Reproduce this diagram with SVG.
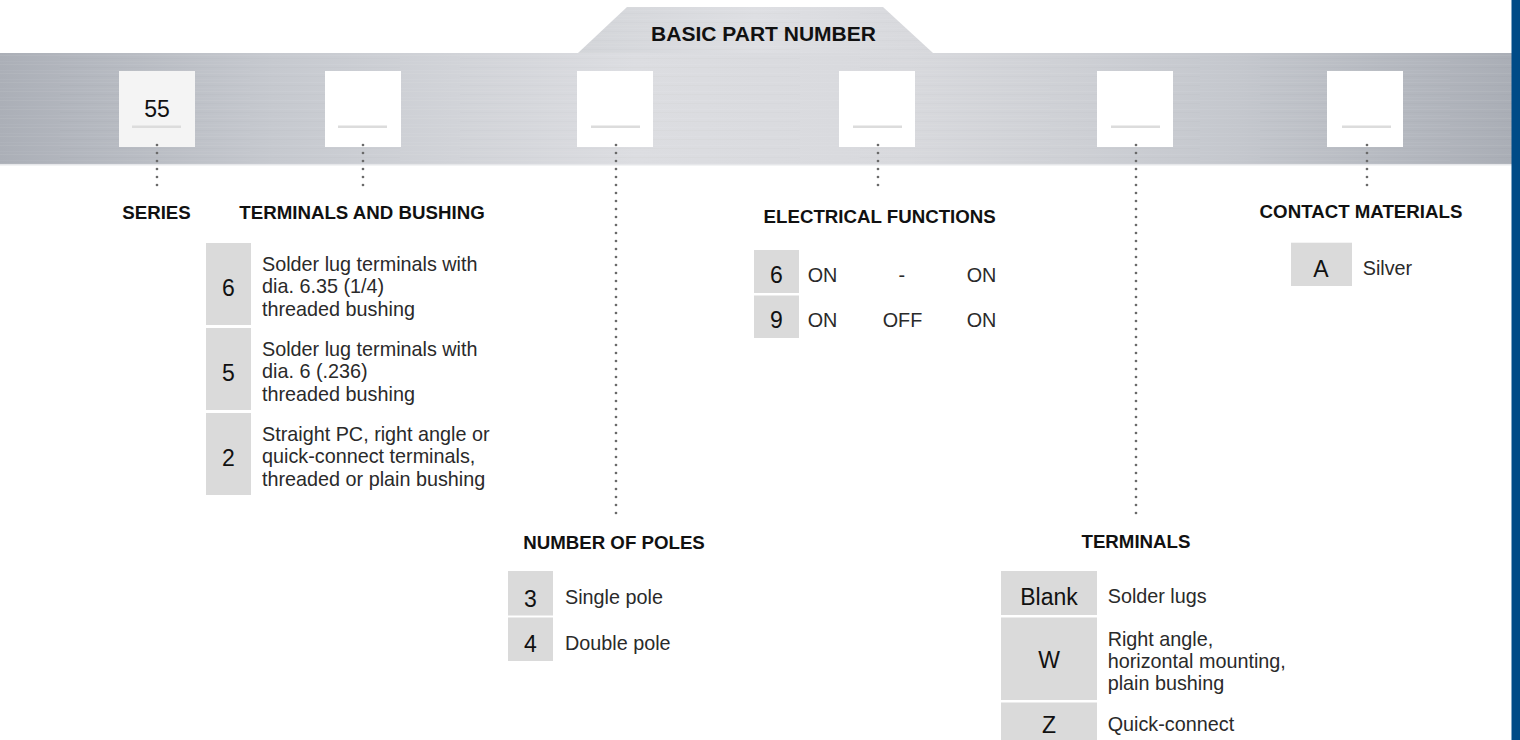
<svg xmlns="http://www.w3.org/2000/svg" width="1520" height="740" viewBox="0 0 1520 740">
<defs>
<linearGradient id="metal" x1="0" y1="0" x2="1" y2="0">
<stop offset="0" stop-color="#abafb7"/>
<stop offset="0.18" stop-color="#c6c9cf"/>
<stop offset="0.42" stop-color="#dcdde1"/>
<stop offset="0.6" stop-color="#d8d9dd"/>
<stop offset="0.82" stop-color="#c4c7cd"/>
<stop offset="1" stop-color="#aaaeb6"/>
</linearGradient>
<linearGradient id="metalTop" x1="0" y1="0" x2="1" y2="0">
<stop offset="0" stop-color="#d3d5d9"/>
<stop offset="0.5" stop-color="#dedfe3"/>
<stop offset="1" stop-color="#d7d8dc"/>
</linearGradient>
<pattern id="brush" patternUnits="userSpaceOnUse" width="400" height="9">
<rect x="0" y="1" width="400" height="1" fill="#ffffff" opacity="0.06"/>
<rect x="60" y="4" width="340" height="1" fill="#000000" opacity="0.015"/>
<rect x="0" y="7" width="250" height="1" fill="#ffffff" opacity="0.04"/>
</pattern>
</defs>
<style>
.head{font-family:"Liberation Sans",Arial,sans-serif;font-weight:bold;font-size:18.7px;fill:#111;text-anchor:middle}
.code{font-family:"Liberation Sans",Arial,sans-serif;font-size:23px;fill:#111;text-anchor:middle}
.desc{font-family:"Liberation Sans",Arial,sans-serif;font-size:19.8px;fill:#2a2a2a}
.cbox{fill:#dadada}
.slot{fill:#ffffff}
.uline{fill:#dcdcdc}
.dots{stroke:#6a6a6a;stroke-width:2.7;stroke-linecap:round;stroke-dasharray:0 8;fill:none}
</style>
<rect width="1520" height="740" fill="#ffffff"/>
<g id="banner">
<polygon points="578,53 627,7 883,7 933,53" fill="url(#metalTop)"/>
<polygon points="578,53 627,7 883,7 933,53" fill="url(#brush)"/>
<rect x="0" y="53" width="1512" height="112" fill="url(#metal)"/>
<rect x="0" y="53" width="1512" height="112" fill="url(#brush)"/>
<rect x="0" y="164" width="1512" height="1.5" fill="#e6e7ea"/>
<text class="head" x="763.5" y="40.5" style="font-size:21px">BASIC PART NUMBER</text>
</g>
<rect id="blue-edge" x="1511.5" y="0" width="8.5" height="740" fill="#004b87"/>
<g id="slot-series">
<rect x="119" y="71" width="76" height="76" fill="#f4f4f4"/>
<rect class="uline" x="132" y="125.5" width="49" height="2.5"/>
<text class="code" x="157" y="117">55</text>
</g>
<g id="slot-terminals-bushing">
<rect class="slot" x="325" y="71" width="76" height="76"/>
<rect class="uline" x="338" y="125.5" width="49" height="2.5"/>
</g>
<g id="slot-poles">
<rect class="slot" x="577" y="71" width="76" height="76"/>
<rect class="uline" x="591" y="125.5" width="49" height="2.5"/>
</g>
<g id="slot-electrical">
<rect class="slot" x="839" y="71" width="76" height="76"/>
<rect class="uline" x="853" y="125.5" width="49" height="2.5"/>
</g>
<g id="slot-terminals">
<rect class="slot" x="1097" y="71" width="76" height="76"/>
<rect class="uline" x="1111" y="125.5" width="49" height="2.5"/>
</g>
<g id="slot-contact">
<rect class="slot" x="1327" y="71" width="76" height="76"/>
<rect class="uline" x="1342" y="125.5" width="49" height="2.5"/>
</g>
<g id="connectors">
<line class="dots" x1="157" y1="145" x2="157" y2="193"/>
<line class="dots" x1="363" y1="145" x2="363" y2="193"/>
<line class="dots" x1="616" y1="145" x2="616" y2="521"/>
<line class="dots" x1="878" y1="145" x2="878" y2="193"/>
<line class="dots" x1="1136" y1="145" x2="1136" y2="521"/>
<line class="dots" x1="1367" y1="145" x2="1367" y2="193"/>
</g>
<g id="series">
<text class="head" x="156.5" y="219">SERIES</text>
</g>
<g id="terminals-and-bushing">
<text class="head" x="362" y="219">TERMINALS AND BUSHING</text>
<rect class="cbox" x="206" y="243" width="45" height="82"/>
<rect class="cbox" x="206" y="328" width="45" height="82"/>
<rect class="cbox" x="206" y="413" width="45" height="82"/>
<text class="code" x="228.5" y="296">6</text>
<text class="code" x="228.5" y="381">5</text>
<text class="code" x="228.5" y="466">2</text>
<text class="desc" x="262" y="270.7">Solder lug terminals with</text>
<text class="desc" x="262" y="293.3">dia. 6.35 (1/4)</text>
<text class="desc" x="262" y="315.7">threaded bushing</text>
<text class="desc" x="262" y="355.7">Solder lug terminals with</text>
<text class="desc" x="262" y="378.3">dia. 6 (.236)</text>
<text class="desc" x="262" y="400.7">threaded bushing</text>
<text class="desc" x="262" y="440.7">Straight PC, right angle or</text>
<text class="desc" x="262" y="463.3">quick-connect terminals,</text>
<text class="desc" x="262" y="485.7">threaded or plain bushing</text>
</g>
<g id="number-of-poles">
<text class="head" x="614" y="549">NUMBER OF POLES</text>
<rect class="cbox" x="508" y="571" width="45" height="44.5"/>
<rect class="cbox" x="508" y="617.5" width="45" height="43.5"/>
<text class="code" x="530.5" y="606.7">3</text>
<text class="code" x="530.5" y="651.7">4</text>
<text class="desc" x="565" y="604.3">Single pole</text>
<text class="desc" x="565" y="649.5">Double pole</text>
</g>
<g id="electrical-functions">
<text class="head" x="879.7" y="223">ELECTRICAL FUNCTIONS</text>
<rect class="cbox" x="754" y="250" width="45" height="43"/>
<rect class="cbox" x="754" y="295.5" width="45" height="42.5"/>
<text class="code" x="776.5" y="283.3">6</text>
<text class="code" x="776.5" y="327.5">9</text>
<text class="desc" x="807.7" y="281.7">ON</text>
<text class="desc" x="901.7" y="281.7" text-anchor="middle">-</text>
<text class="desc" x="966.7" y="281.7">ON</text>
<text class="desc" x="807.7" y="326.5">ON</text>
<text class="desc" x="902.5" y="326.5" text-anchor="middle">OFF</text>
<text class="desc" x="966.7" y="326.5">ON</text>
</g>
<g id="contact-materials">
<text class="head" x="1361" y="218">CONTACT MATERIALS</text>
<rect class="cbox" x="1291" y="242.7" width="61" height="43.3"/>
<text class="code" x="1321" y="276.7">A</text>
<text class="desc" x="1362.7" y="275">Silver</text>
</g>
<g id="terminals">
<text class="head" x="1136" y="548">TERMINALS</text>
<rect class="cbox" x="1001" y="571" width="96" height="44"/>
<rect class="cbox" x="1001" y="617.5" width="96" height="82.5"/>
<rect class="cbox" x="1001" y="702.5" width="96" height="40"/>
<text class="code" x="1049" y="605">Blank</text>
<text class="code" x="1049" y="668.3">W</text>
<text class="code" x="1049" y="732.7">Z</text>
<text class="desc" x="1107.7" y="603.3">Solder lugs</text>
<text class="desc" x="1107.7" y="646">Right angle,</text>
<text class="desc" x="1107.7" y="668">horizontal mounting,</text>
<text class="desc" x="1107.7" y="690">plain bushing</text>
<text class="desc" x="1107.7" y="731">Quick-connect</text>
</g>
</svg>
